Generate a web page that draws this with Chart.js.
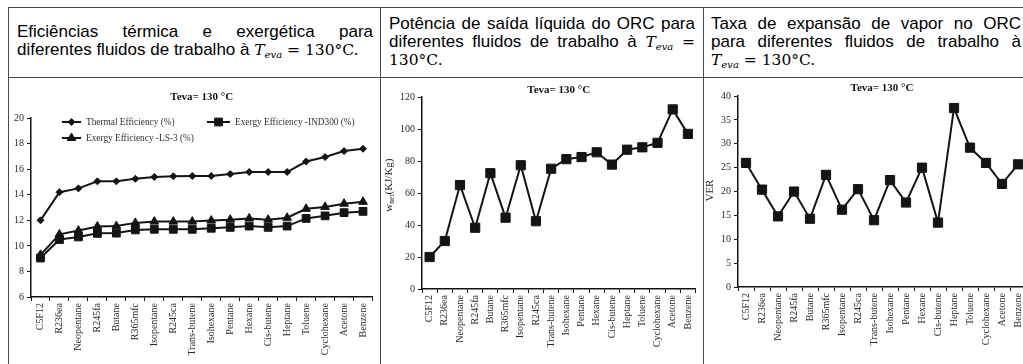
<!DOCTYPE html>
<html>
<head>
<meta charset="utf-8">
<script src="https://cdn.jsdelivr.net/npm/chart.js@4.4.0/dist/chart.umd.min.js"></script>
<style>
  html, body { margin: 0; padding: 0; background: #fff; overflow: hidden; }
  #page { position: relative; width: 1023px; height: 364px; overflow: hidden; color: #000;
          font-family: "Liberation Sans", Arial, sans-serif; }
  .vline { position: absolute; top: 7px; height: 370px; width: 1px; background: #4a4a4a; }
  .hline { position: absolute; left: 8px; width: 1030px; height: 1px; background: #4a4a4a; }
  .head { position: absolute; font-size: 17px; line-height: 18px; }
  .head .j { display: block; text-align: justify; text-align-last: justify; }
  .head .l { display: block; text-align: left; }
  .m { font-family: "DejaVu Serif", serif; font-size: 15.5px; }
  .m i { font-style: italic; }
  .m sub { font-size: 10px; font-style: italic; vertical-align: -3px; line-height: 0; }
  canvas { position: absolute; }
</style>
</head>
<body>
<div id="page">
  <div class="hline" style="top:7px"></div>
  <div class="hline" style="top:77px"></div>
  <div class="vline" style="left:8px"></div>
  <div class="vline" style="left:380px"></div>
  <div class="vline" style="left:703px"></div>

  <div class="head" style="left:17px; top:23px; width:356px">
    <span class="j">Eficiências térmica e exergética para</span>
    <span class="l">diferentes fluidos de trabalho à <span class="m"><i>T</i><sub>eva</sub> = 130°C.</span></span>
  </div>
  <div class="head" style="left:389px; top:15px; width:306px">
    <span class="j">Potência de saída líquida do ORC para</span>
    <span class="j">diferentes fluidos de trabalho à <span class="m"><i>T</i><sub>eva</sub> =</span></span>
    <span class="l"><span class="m">130°C.</span></span>
  </div>
  <div class="head" style="left:711px; top:15px; width:310px">
    <span class="j">Taxa de expansão de vapor no ORC</span>
    <span class="j">para diferentes fluidos de trabalho à</span>
    <span class="l"><span class="m"><i>T</i><sub>eva</sub> = 130°C.</span></span>
  </div>

  <canvas id="effChart" width="370" height="286" style="left:9px; top:78px"></canvas>
  <canvas id="workChart" width="322" height="286" style="left:381px; top:78px"></canvas>
  <canvas id="verChart" width="330" height="286" style="left:704px; top:78px"></canvas>
</div>

<script>
// working fluids, same order in all three plots
const fluids = ['C5F12', 'R236ea', 'Neopentane', 'R245fa', 'Butane', 'R365mfc', 'Isopentane', 'R245ca',
  'Trans-butene', 'Isohexane', 'Pentane', 'Hexane', 'Cis-butene', 'Heptane', 'Toluene', 'Cyclohexane',
  'Acetone', 'Benzene'];

// efficiencies (%)
const thermalEff   = [12.0, 14.2, 14.5, 15.05, 15.05, 15.25, 15.4, 15.45, 15.47, 15.47, 15.62, 15.78, 15.78, 15.78, 16.6, 16.95, 17.42, 17.6];
const exergyInd300 = [9.05, 10.5, 10.7, 10.98, 11.0, 11.25, 11.3, 11.3, 11.3, 11.38, 11.45, 11.55, 11.45, 11.55, 12.15, 12.35, 12.6, 12.7];
const exergyLs3    = [9.3, 10.9, 11.2, 11.52, 11.55, 11.8, 11.9, 11.9, 11.9, 11.98, 12.05, 12.15, 12.05, 12.2, 12.9, 13.05, 13.3, 13.45];

// net work output w_net (kJ/kg)
const netWork = [20.0, 30.0, 65.0, 38.3, 72.4, 44.6, 77.4, 42.4, 75.2, 81.2, 82.5, 85.5, 77.8, 87.1, 88.6, 91.4, 112.3, 97.0];

// vapour expansion ratio
const verValues = [26.0, 20.4, 14.8, 20.0, 14.3, 23.5, 16.2, 20.5, 14.0, 22.4, 17.7, 25.0, 13.5, 37.5, 29.2, 26.0, 21.6, 25.7];

// y ranges: [min, max, step]
const effRange  = [6, 20, 2];
const workRange = [0, 120, 20];
const verRange  = [0, 40, 5];

const SERIF = '"Liberation Serif", "Times New Roman", serif';
const INK = '#141414';

// legend drawn inside the plot area (chart 1)
const insideLegend = {
  id: 'insideLegend',
  afterDraw(chart, args, opts) {
    if (!opts.items) return;
    const ctx = chart.ctx;
    ctx.save();
    ctx.font = '9.3px ' + SERIF;
    ctx.textBaseline = 'middle';
    opts.items.forEach(it => {
      const ds = chart.data.datasets[it.index];
      ctx.strokeStyle = INK; ctx.fillStyle = INK; ctx.lineWidth = 2;
      ctx.beginPath(); ctx.moveTo(it.x, it.y); ctx.lineTo(it.x + it.w, it.y); ctx.stroke();
      ctx.lineWidth = 1;
      Chart.helpers.drawPoint(ctx, { pointStyle: ds.pointStyle, radius: ds.pointRadius, borderWidth: 1, rotation: 0 },
        it.x + it.w / 2, it.y);
      ctx.fillStyle = '#333';
      ctx.fillText(ds.label, it.x + it.w + 5, it.y + 0.5);
    });
    ctx.restore();
  }
};

// rotated y-axis title with optional subscript part
const yTitle = {
  id: 'yTitle',
  afterDraw(chart, args, opts) {
    if (!opts.parts) return;
    const ctx = chart.ctx;
    const area = chart.chartArea;
    ctx.save();
    const fontFor = p => (p.sub ? '7.5px ' : '11px ') + SERIF;
    let total = 0;
    opts.parts.forEach(p => { ctx.font = fontFor(p); total += ctx.measureText(p.text).width; });
    ctx.translate(opts.x, (area.top + area.bottom) / 2 + (opts.dy || 0));
    ctx.rotate(-Math.PI / 2);
    ctx.fillStyle = '#222';
    ctx.textBaseline = 'middle';
    let pos = -total / 2;
    opts.parts.forEach(p => {
      ctx.font = fontFor(p);
      ctx.fillText(p.text, pos, p.sub ? 3 : 0);
      pos += ctx.measureText(p.text).width;
    });
    ctx.restore();
  }
};

function scales(range, yWidth, xHeight) {
  return {
    x: {
      type: 'category',
      offset: true,
      grid: { offset: true, drawOnChartArea: false, drawTicks: true, tickLength: 4, color: INK },
      border: { display: true, color: INK, width: 1.5 },
      ticks: { autoSkip: false, minRotation: 90, maxRotation: 90, padding: 2, color: '#2a2a2a',
               font: { family: SERIF, size: 10 } },
      afterFit: s => { s.height = xHeight; }
    },
    y: {
      min: range[0], max: range[1],
      grid: { drawOnChartArea: false, drawTicks: true, tickLength: 4, color: INK },
      border: { display: true, color: INK, width: 1.5 },
      ticks: { stepSize: range[2], padding: 3, color: '#2a2a2a', font: { family: SERIF, size: 10 } },
      afterFit: s => { s.width = yWidth; }
    }
  };
}

function series(label, data, style, radius) {
  return {
    label, data,
    borderColor: INK, backgroundColor: INK,
    pointBackgroundColor: INK, pointBorderColor: INK,
    borderWidth: 2, pointBorderWidth: 1,
    pointStyle: style, pointRadius: radius, pointHoverRadius: radius,
    tension: 0
  };
}

function title(pad) {
  return { display: true, text: 'Teva= 130 °C', fullSize: false, color: '#111',
           font: { family: SERIF, size: 11, weight: 'bold', lineHeight: 1.1 }, padding: pad };
}

Chart.defaults.animation = false;

new Chart(document.getElementById('effChart'), {
  type: 'line',
  data: {
    labels: fluids,
    datasets: [
      series('Thermal Efficiency (%)', thermalEff, 'rectRot', 3.5),
      series('Exergy Efficiency -IND300 (%)', exergyInd300, 'rect', 5.5),
      series('Exergy Efficiency -LS-3 (%)', exergyLs3, 'triangle', 5)
    ]
  },
  options: {
    responsive: false,
    layout: { padding: { left: 0, right: 6, top: 0, bottom: 0 } },
    scales: scales(effRange, 22, 67),
    plugins: {
      legend: { display: false },
      tooltip: { enabled: false },
      title: title({ top: 13, bottom: 15 }),
      insideLegend: { items: [
        { index: 0, x: 53, y: 44, w: 19 },
        { index: 1, x: 198, y: 44, w: 23 },
        { index: 2, x: 53, y: 60, w: 19 }
      ] }
    }
  },
  plugins: [insideLegend]
});

new Chart(document.getElementById('workChart'), {
  type: 'line',
  data: { labels: fluids, datasets: [series('w_net', netWork, 'rect', 6.5)] },
  options: {
    responsive: false,
    layout: { padding: 0 },
    scales: scales(workRange, 41, 75),
    plugins: {
      legend: { display: false },
      tooltip: { enabled: false },
      title: title({ top: 6, bottom: 1 }),
      yTitle: { x: 8, dy: -8, parts: [{ text: 'w' }, { text: 'net', sub: true }, { text: '(KJ/Kg)' }] }
    }
  },
  plugins: [yTitle]
});

new Chart(document.getElementById('verChart'), {
  type: 'line',
  data: { labels: fluids, datasets: [series('VER', verValues, 'rect', 6.5)] },
  options: {
    responsive: false,
    layout: { padding: { left: 0, right: 8, top: 0, bottom: 0 } },
    scales: scales(verRange, 34, 77),
    plugins: {
      legend: { display: false },
      tooltip: { enabled: false },
      title: title({ top: 4, bottom: 2 }),
      yTitle: { x: 6, dy: -1, parts: [{ text: 'VER' }] }
    }
  },
  plugins: [yTitle]
});
</script>
</body>
</html>
